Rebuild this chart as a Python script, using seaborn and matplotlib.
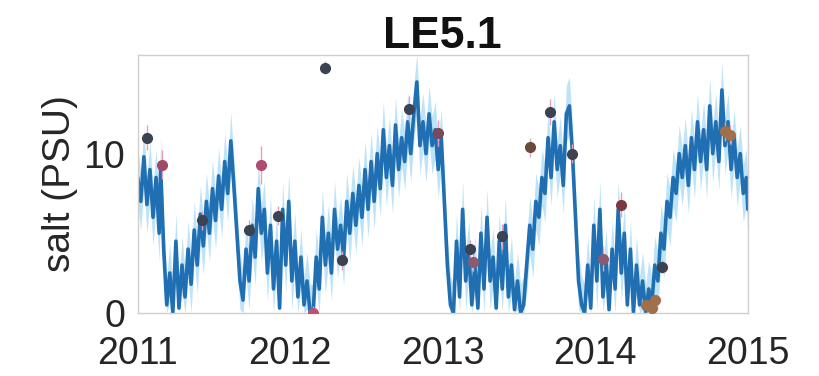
import numpy as np
import pandas as pd
import matplotlib
matplotlib.use("Agg")
import matplotlib.pyplot as plt
import seaborn as sns

# model salinity (decimal year, PSU)
model_t = [
    2011.00, 2011.02, 2011.04, 2011.06, 2011.08, 2011.10, 2011.12, 2011.14, 2011.15, 2011.17,
    2011.19, 2011.21, 2011.23, 2011.25, 2011.27, 2011.29, 2011.31,
    2011.33, 2011.35, 2011.37, 2011.39, 2011.41, 2011.43, 2011.45, 2011.47, 2011.49, 2011.51,
    2011.53, 2011.55, 2011.57, 2011.59, 2011.61, 2011.63,
    2011.65, 2011.67, 2011.69, 2011.71, 2011.73,
    2011.75, 2011.77, 2011.79, 2011.81, 2011.83, 2011.85, 2011.87, 2011.89, 2011.91, 2011.93,
    2011.95, 2011.97, 2011.99, 2012.01, 2012.03, 2012.05, 2012.07, 2012.09, 2012.11, 2012.13, 2012.15,
    2012.17, 2012.19, 2012.21, 2012.23, 2012.25, 2012.27, 2012.29, 2012.31, 2012.33, 2012.35,
    2012.37, 2012.39, 2012.41, 2012.43, 2012.45, 2012.47, 2012.49, 2012.51, 2012.53, 2012.55,
    2012.57, 2012.59, 2012.61, 2012.63, 2012.65, 2012.67, 2012.69, 2012.71, 2012.73, 2012.75,
    2012.77, 2012.79, 2012.81, 2012.83, 2012.85, 2012.87, 2012.89, 2012.91, 2012.93, 2012.95, 2012.97,
    2012.99, 2013.01, 2013.03, 2013.05, 2013.07,
    2013.09, 2013.11, 2013.13, 2013.15, 2013.17, 2013.19, 2013.21, 2013.23, 2013.25, 2013.27,
    2013.29, 2013.31, 2013.33, 2013.35, 2013.37, 2013.39, 2013.41, 2013.43, 2013.45, 2013.47,
    2013.49, 2013.51, 2013.53,
    2013.55, 2013.57, 2013.59, 2013.61, 2013.63, 2013.65, 2013.67, 2013.69, 2013.71, 2013.73,
    2013.75, 2013.77, 2013.79, 2013.81, 2013.83, 2013.85, 2013.87, 2013.89, 2013.91,
    2013.93, 2013.95, 2013.97, 2013.99, 2014.01, 2014.03, 2014.05, 2014.07, 2014.09, 2014.11,
    2014.13, 2014.15, 2014.17, 2014.19, 2014.21, 2014.23, 2014.25, 2014.27, 2014.29, 2014.31,
    2014.33, 2014.35, 2014.37,
    2014.39, 2014.41, 2014.43, 2014.45, 2014.47, 2014.49, 2014.51, 2014.53, 2014.55,
    2014.57, 2014.59, 2014.61, 2014.63, 2014.65, 2014.67, 2014.69, 2014.71, 2014.73, 2014.75,
    2014.77, 2014.79, 2014.81, 2014.83, 2014.85, 2014.87, 2014.89, 2014.91, 2014.93, 2014.95,
    2014.97, 2014.99, 2015.00,
]
model_salt = [
    8.5, 7.0, 9.8, 6.8, 9.0, 6.0, 8.5, 5.0, 9.2, 4.0,
    0.5, 2.5, 0.0, 4.5, 0.3, 3.0, 1.0,
    4.0, 1.8, 5.2, 3.0, 6.2, 4.2, 7.0, 5.0, 7.8, 5.8,
    8.6, 6.5, 9.5, 7.5, 10.8, 8.0,
    5.0, 2.0, 0.8, 4.0, 2.0,
    5.5, 3.5, 7.8, 5.0, 6.5, 2.5, 5.5, 1.5, 4.5, 0.3,
    6.5, 3.0, 7.0, 2.0, 4.5, 1.0, 3.5, 0.5, 2.0, 0.0, 0.0,
    3.5, 1.5, 6.0, 3.0, 5.0, 2.5, 6.5, 4.0, 5.5, 3.5,
    7.0, 5.0, 7.5, 5.5, 8.0, 6.0, 9.0, 6.5, 9.5, 7.0,
    10.0, 7.8, 11.5, 8.5, 10.5, 8.0, 11.8, 9.0, 11.0, 9.5,
    12.0, 10.0, 12.5, 14.5, 10.5, 12.0, 10.0, 12.5, 10.5, 11.5, 9.0,
    11.0, 7.0, 3.0, 0.5, 0.0,
    4.5, 1.0, 6.5, 2.0, 4.0, 0.5, 3.0, 0.3, 5.0, 1.5,
    6.0, 2.0, 3.5, 0.3, 4.5, 1.5, 5.5, 1.0, 3.0, 0.2,
    2.0, 0.0, 0.5,
    3.0, 5.5, 4.0, 7.0, 6.0, 8.5, 7.5, 11.0, 8.5, 12.0,
    9.0, 10.5, 8.0, 12.5, 13.0, 10.0, 6.0, 2.0, 0.5,
    0.0, 3.0, 0.3, 5.5, 2.0, 6.5, 1.0, 3.5, 0.2, 4.0,
    1.5, 6.5, 2.5, 5.0, 0.5, 4.0, 0.0, 3.0, 0.5, 2.0,
    0.0, 1.5, 0.5,
    3.0, 2.0, 5.0, 4.0, 7.0, 6.0, 8.5, 7.5, 10.0,
    8.5, 10.5, 8.0, 11.0, 9.0, 12.0, 9.5, 11.5, 9.0, 13.0,
    10.0, 12.0, 9.5, 14.0, 10.5, 12.0, 9.0, 11.0, 8.5, 10.0,
    7.5, 8.5, 6.5,
]
band_halfwidth = 1.8

# observations with error bars
obs_t = [2011.06, 2011.16, 2011.42, 2011.73, 2011.81, 2011.92, 2012.15, 2012.23, 2012.34,
         2012.78, 2012.97, 2013.18, 2013.20, 2013.39, 2013.57, 2013.70, 2013.85,
         2014.05, 2014.17, 2014.33, 2014.37, 2014.39, 2014.44, 2014.85, 2014.88]
obs_salt = [11.0, 9.3, 5.8, 5.2, 9.3, 6.1, 0.0, 15.4, 3.3,
            12.8, 11.3, 4.0, 3.2, 4.8, 10.4, 12.6, 10.0,
            3.4, 6.8, 0.5, 0.3, 0.8, 2.9, 11.4, 11.2]
obs_err = [0.8, 0.9, 0.6, 0.6, 1.2, 0.6, 0.4, 0.4, 0.6,
           0.8, 0.8, 0.6, 0.6, 0.8, 0.6, 0.8, 0.6,
           0.8, 0.8, 0.3, 0.3, 0.3, 0.4, 0.6, 0.6]
obs_color = ["#3b4252", "#a04a6a", "#3b4252", "#3b4252", "#b04a70", "#3b4252", "#c05070", "#3b4252", "#3b4252",
             "#3b4252", "#7a4a5a", "#3b4252", "#8a5a70", "#3b4252", "#6a4a3a", "#3b4252", "#3b4252",
             "#8a5a70", "#7a3a40", "#a0704a", "#a0704a", "#a0704a", "#3b4252", "#a0704a", "#a0704a"]

model = pd.DataFrame({"time": model_t, "salt": model_salt})
obs = pd.DataFrame({"time": obs_t, "salt": obs_salt, "err": obs_err, "color": obs_color})

sns.set_theme(style="white")
plt.rcParams["font.family"] = ["Liberation Sans", "DejaVu Sans"]

fig = plt.figure(figsize=(8.2, 3.76), dpi=100)
ax = fig.add_axes([0.168, 0.168, 0.744, 0.686])

ax.fill_between(model["time"], (model["salt"] - band_halfwidth).clip(lower=0),
                model["salt"] + band_halfwidth, color="#a3d8f4", alpha=0.7, lw=0)
sns.lineplot(data=model, x="time", y="salt", ax=ax, color="#1f6fb2", lw=2.6, sort=False)

for _, r in obs.iterrows():
    ax.errorbar(r["time"], r["salt"], yerr=r["err"], fmt="o", ms=7, color=r["color"],
                ecolor="#e8a0b8", elinewidth=1, capsize=0, zorder=5)

ax.set_xlim(2011, 2015)
ax.set_ylim(0, 16.2)
ax.set_xticks([2011, 2012, 2013, 2014, 2015])
ax.set_xticklabels(["2011", "2012", "2013", "2014", "2015"])
ax.set_yticks([0, 10])
ax.tick_params(axis="both", direction="in", length=3, labelsize=27, colors="#262626")
ax.tick_params(axis="x", pad=17)
ax.tick_params(axis="y", pad=9)
for s in ax.spines.values():
    s.set_color("#cfcfcf")
    s.set_linewidth(1.0)
ax.set_xlabel("")
ax.set_ylabel("salt (PSU)", fontsize=28, color="#262626", labelpad=4)
ax.set_title("LE5.1", fontsize=32, fontweight="bold", color="#111111", pad=5)

fig.savefig("out.png", dpi=100)
